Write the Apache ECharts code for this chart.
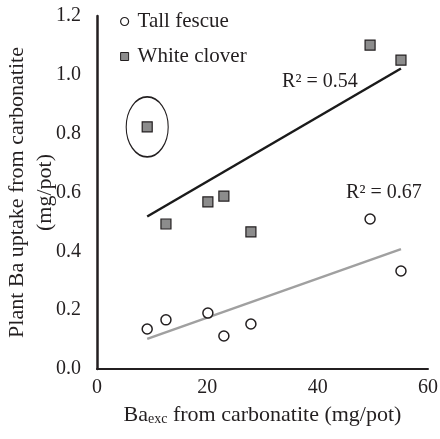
<!DOCTYPE html>
<html>
<head>
<meta charset="utf-8">
<script src="https://cdn.jsdelivr.net/npm/echarts@6/dist/echarts.min.js"></script>
<style>
html,body{margin:0;padding:0;background:#fff;}
#chart{width:440px;height:439px;}
</style>
</head>
<body>
<div id="chart"></div>
<script>
// Data
const baExc = [9.1, 12.5, 20.1, 23.0, 27.9, 49.5, 55.1];
const tallFescue = [0.136, 0.167, 0.190, 0.112, 0.153, 0.510, 0.333];
const whiteClover = [0.823, 0.493, 0.568, 0.588, 0.466, 1.101, 1.050];
const r2TallFescue = '0.67';
const r2WhiteClover = '0.54';
const outlierIndex = 0; // circled white clover point
const xTicks = [0, 20, 40, 60];
const yTicks = [0, 0.2, 0.4, 0.6, 0.8, 1.0, 1.2];

function fit(xs, ys) {
  const n = xs.length;
  const mx = xs.reduce((a, b) => a + b, 0) / n;
  const my = ys.reduce((a, b) => a + b, 0) / n;
  let sxy = 0, sxx = 0;
  for (let i = 0; i < n; i++) { sxy += (xs[i] - mx) * (ys[i] - my); sxx += (xs[i] - mx) ** 2; }
  const b = sxy / sxx, a = my - b * mx;
  const x0 = Math.min(...xs), x1 = Math.max(...xs);
  return [[x0, a + b * x0], [x1, a + b * x1]];
}
const pairs = ys => baExc.map((x, i) => [x, ys[i]]);

const FONT = '"Liberation Serif", "Times New Roman", serif';
const INK = '#231f20';
const chart = echarts.init(document.getElementById('chart'), null, {renderer: 'canvas'});
chart.setOption({
  animation: false,
  textStyle: {fontFamily: FONT, color: INK},
  grid: {left: 97, right: 12, top: 16, bottom: 70, outerBoundsMode: 'none'},
  legend: {
    orient: 'vertical', left: 115, top: 6, itemWidth: 8, itemHeight: 8, itemGap: 14,
    textStyle: {fontFamily: FONT, fontSize: 21, color: INK, padding: [0, 0, 0, 4]},
    data: [
      {name: 'Tall fescue', icon: 'circle', itemStyle: {color: '#fff', borderColor: INK, borderWidth: 1.2}},
      {name: 'White clover', icon: 'rect', itemStyle: {color: '#8c8c8c', borderColor: INK, borderWidth: 1}}
    ]
  },
  xAxis: {
    type: 'value', min: xTicks[0], max: xTicks[xTicks.length - 1], interval: 20,
    splitLine: {show: false}, axisTick: {show: false},
    axisLine: {show: true, lineStyle: {color: INK, width: 2}},
    axisLabel: {fontFamily: FONT, fontSize: 20, color: INK, margin: 9},
    name: '{b|Ba}{s|exc}{b| from carbonatite (mg/pot)}',
    nameLocation: 'middle', nameGap: 33, nameMoveOverlap: false,
    nameTextStyle: {
      rich: {
        b: {fontFamily: FONT, fontSize: 22, color: INK, verticalAlign: 'bottom', lineHeight: 24},
        s: {fontFamily: FONT, fontSize: 14, color: INK, verticalAlign: 'bottom', lineHeight: 11}
      }
    }
  },
  yAxis: {
    type: 'value', min: yTicks[0], max: yTicks[yTicks.length - 1], interval: 0.2,
    splitLine: {show: false}, axisTick: {show: false},
    axisLine: {show: true, lineStyle: {color: INK, width: 2.5}},
    axisLabel: {fontFamily: FONT, fontSize: 20, color: INK, margin: 16, formatter: v => v.toFixed(1)},
    name: 'Plant Ba uptake from carbonatite\n(mg/pot)',
    nameLocation: 'middle', nameGap: 38, nameMoveOverlap: false,
    nameTextStyle: {fontFamily: FONT, fontSize: 22, color: INK, lineHeight: 28}
  },
  series: [
    {
      name: 'Tall fescue trend', type: 'line', data: fit(baExc, tallFescue), symbol: 'none',
      lineStyle: {color: '#a0a0a0', width: 2.5}, z: 1,
      markPoint: {symbol: 'circle', symbolSize: 0, data: [{coord: [52.0, 0.598], label: {show: true, formatter: 'R² = ' + r2TallFescue, fontFamily: FONT, fontSize: 20, color: INK, position: 'inside'}}]}
    },
    {
      name: 'White clover trend', type: 'line', data: fit(baExc, whiteClover), symbol: 'none',
      lineStyle: {color: '#1a1a1a', width: 2.5}, z: 1,
      markPoint: {symbol: 'circle', symbolSize: 0, data: [{coord: [40.4, 0.976], label: {show: true, formatter: 'R² = ' + r2WhiteClover, fontFamily: FONT, fontSize: 20, color: INK, position: 'inside'}}]}
    },
    {
      name: 'Tall fescue', type: 'scatter', data: pairs(tallFescue), symbol: 'circle', symbolSize: 10,
      itemStyle: {color: '#fff', borderColor: INK, borderWidth: 1.5, opacity: 1}, z: 3
    },
    {
      name: 'White clover', type: 'scatter', data: pairs(whiteClover), symbol: 'rect', symbolSize: 10,
      itemStyle: {color: '#8c8c8c', borderColor: INK, borderWidth: 1.2, opacity: 1}, z: 3
    },
    {
      name: 'outlier', type: 'scatter', data: [[baExc[outlierIndex], whiteClover[outlierIndex]]],
      symbol: 'circle', symbolSize: [42, 60], silent: true,
      itemStyle: {color: 'rgba(0,0,0,0)', borderColor: INK, borderWidth: 1.3, opacity: 1}, z: 2
    }
  ]
});
</script>
</body>
</html>
